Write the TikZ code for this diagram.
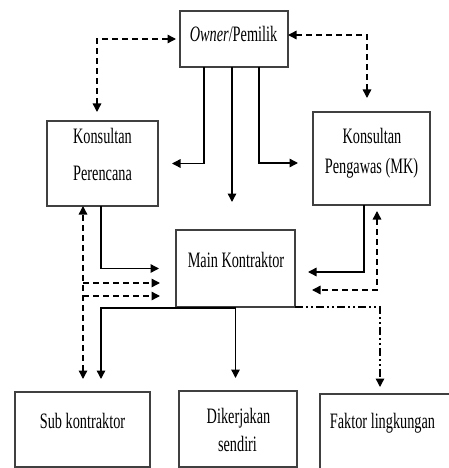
\documentclass[tikz,border=0pt]{standalone}
\usepackage{fontspec}
\usetikzlibrary{arrows.meta}
\newfontfamily\boxfont[FakeStretch=0.65]{Liberation Serif}

\tikzset{
  box/.style={draw=black!75, line width=1.2pt, rectangle, anchor=north west,
    inner sep=0pt, outer sep=0pt},
  lbl/.style={anchor=base, inner sep=0pt, font=\boxfont\fontsize{22}{26}\selectfont},
  tip/.tip={Triangle[length=8.5pt,width=8.5pt]},
  flow/.style={line width=1.4pt, -tip},
  dflow/.style={line width=1.4pt, dash pattern=on 6pt off 4pt, -tip},
  dbl/.style={line width=1.4pt, dash pattern=on 6pt off 4pt, tip-tip},
  dotflow/.style={line width=1.4pt,
    dash pattern=on 8pt off 3pt on 2pt off 3pt on 2pt off 3pt, -tip},
}

\begin{document}
\begin{tikzpicture}[x=1pt, y=-1pt]
  \useasboundingbox (0,0) rectangle (449,468);
  \clip (0,0) rectangle (449,468);

  % boxes
  \node[box, minimum width=108pt, minimum height=56pt] (owner) at (180,11) {};
  \node[box, minimum width=111pt, minimum height=85pt] (plan)  at (47,121) {};
  \node[box, minimum width=117pt, minimum height=93pt] (mk)    at (313,112) {};
  \node[box, minimum width=119pt, minimum height=77pt] (main)  at (176,230) {};
  \node[box, minimum width=135pt, minimum height=75pt] (sub)   at (15,392) {};
  \node[box, minimum width=118pt, minimum height=76pt] (self)  at (179,391) {};
  \node[box, minimum width=140pt, minimum height=90pt] (env)   at (320,394) {};

  % labels
  \node[lbl] (tOwner) at (233.5,41.5) {\textit{Owner}/Pemilik};
  \node[lbl] (tPlanA) at (102.5,143) {Konsultan};
  \node[lbl] (tPlanB) at (102.5,180) {Perencana};
  \node[lbl] (tMkA)   at (372,143) {Konsultan};
  \node[lbl] (tMkB)   at (371.5,173) {Pengawas (MK)};
  \node[lbl] (tMain)  at (236,267) {Main Kontraktor};
  \node[lbl] (tSub)   at (82.5,428) {Sub kontraktor};
  \node[lbl] (tSelfA) at (238.5,423) {Dikerjakan};
  \node[lbl] (tSelfB) at (237.5,451) {sendiri};
  \node[lbl] (tEnv)   at (382.5,428) {Faktor lingkungan};

  % owner instructions
  \draw[flow, shorten >=14pt] ([xshift=-30pt]owner.south) |- (plan.east);
  \draw[flow, shorten >=28pt] ([xshift=-2pt]owner.south) -- ([xshift=-2pt]owner.south |- main.north);
  \draw[flow, shorten >=15pt] ([xshift=25pt]owner.south) |- ([yshift=-4.5pt]mk.west);

  % owner coordination with consultants
  \draw[dbl, shorten <=9pt, shorten >=4pt] ([xshift=-5.5pt]plan.north) |- (owner.west);
  \draw[dbl, shorten >=14pt] ([yshift=4pt]owner.east) -| ([xshift=-4.5pt]mk.north);

  % consultants to main contractor
  \draw[flow, shorten >=17pt] ([xshift=-1.5pt]plan.south) |- (main.west);
  \draw[flow, shorten >=13pt] ([xshift=-7.5pt]mk.south) |- ([yshift=-3.5pt]main.east);
  \draw[dbl, shorten <=6pt, shorten >=17pt] ([xshift=5.5pt]mk.south) |- ([yshift=-21.5pt]main.east);

  % planner coordination line
  \coordinate (dA) at (83,283);
  \coordinate (dB) at (83,296);
  \draw[dbl, shorten <=13pt] ([xshift=0.5pt]sub.north) -- ([xshift=-19.5pt]plan.south);
  \draw[dflow, shorten >=16pt] (dA) -- (dA -| main.west);
  \draw[dflow, shorten >=16pt] (dB) -- (dB -| main.west);

  % main contractor outputs
  \draw[flow, shorten >=13pt] ([yshift=-1pt]main.south) -| ([xshift=18.5pt]sub.north);
  \draw[flow, shorten >=13pt] (main.south) -- (main.south |- self.north);
  \draw[dotflow, shorten >=7pt] (main.south east) -| ([xshift=60pt]env.north west);
\end{tikzpicture}
\end{document}
